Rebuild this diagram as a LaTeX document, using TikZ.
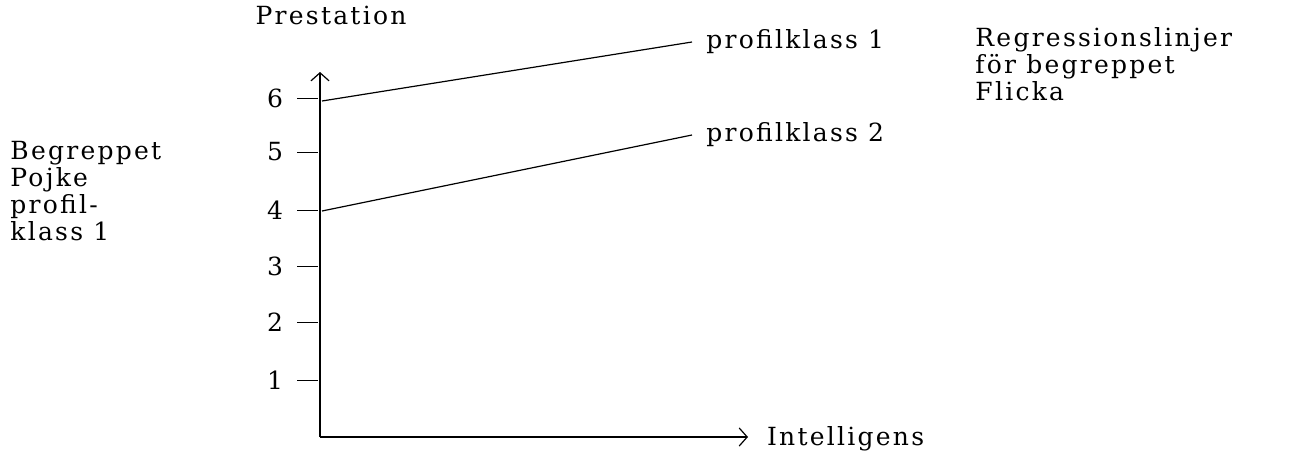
\documentclass[tikz,border=0pt]{standalone}
\usepackage{fontspec}
\setmainfont{DejaVu Serif}[LetterSpace=9]
\usetikzlibrary{arrows.meta}

\begin{document}
\begin{tikzpicture}[
  every node/.style={font=\fontsize{12.5pt}{13.5pt}\selectfont},
  axis/.style={line width=0.6pt, -{Straight Barb[length=4pt,width=9pt]}},
  blocktext/.style={align=left, anchor=north west, inner sep=0pt}
]
\useasboundingbox (0,0) rectangle (653pt, 228.5pt);
\coordinate (origin) at (160pt, 10pt);
\draw [axis] (origin) -- (160pt, 192.5pt) coordinate (ytip);
\draw [axis] (origin) -- (374pt, 10pt) coordinate (xtip);
\node (prestation) at (165.5pt, 221pt) {Prestation};
\node (intelligens) [right] at (380pt, 9pt) {Intelligens};
\foreach \n/\y in {1/38.5, 2/67.5, 3/95.5, 4/123.5, 5/152.5, 6/179.5} {
  \draw [line width=0.5pt] (148.5pt, \y pt) -- (159pt, \y pt);
  \node (tick\n) at (137.5pt, \y pt) {\n};
}
\draw [line width=0.6pt] (161pt, 178pt) coordinate (start1) -- (346pt, 207.5pt) coordinate (end1);
\node (klass1) [right, inner sep=1pt] at ([xshift=6pt]end1) {profilklass 1};
\draw [line width=0.6pt] (161pt, 123pt) coordinate (start2) -- (346pt, 161pt) coordinate (end2);
\node (klass2) [right, inner sep=1pt] at ([xshift=6pt]end2) {profilklass 2};
\node (flicka) [blocktext] at (487.5pt, 215pt) {Regressionslinjer\\för begreppet\\Flicka};
\node (pojke) [blocktext] at (5pt, 158pt) {Begreppet\\Pojke\\profil-\\klass 1};
\end{tikzpicture}
\end{document}
